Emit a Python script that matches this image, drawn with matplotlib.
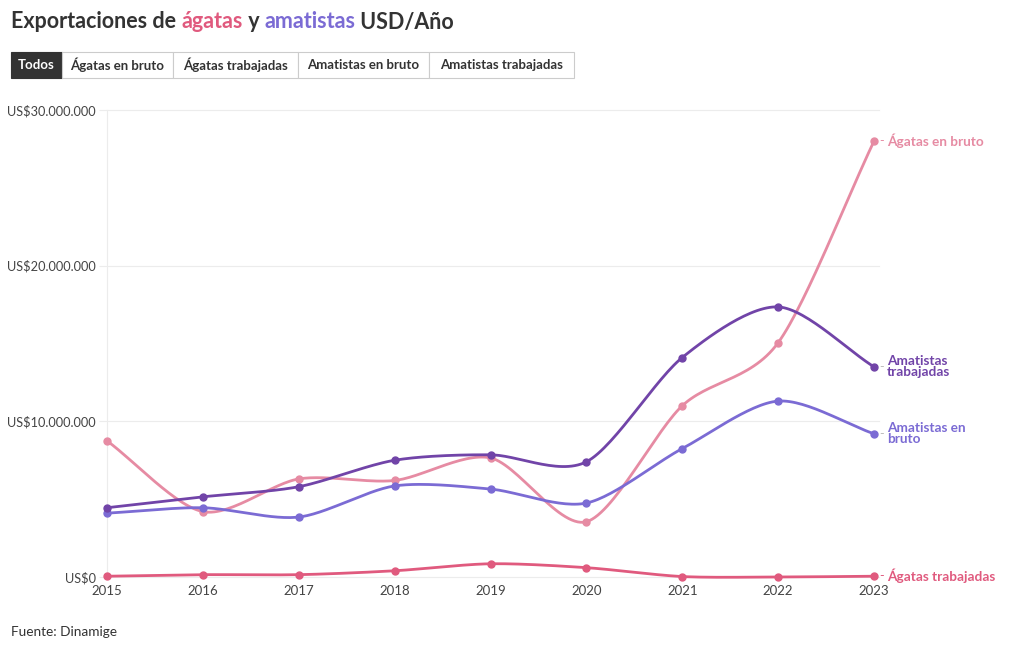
"""
Exportaciones de ágatas y amatistas (USD/año) — recreación del gráfico.
"""

import numpy as np
import matplotlib
matplotlib.use("Agg")
import matplotlib.pyplot as plt
import matplotlib.patches as mpatches
from matplotlib.ticker import FuncFormatter

plt.rcParams["font.family"] = ["Lato", "DejaVu Sans"]

# ── Datos ─────────────────────────────────────────────────────────────────────

years = [2015, 2016, 2017, 2018, 2019, 2020, 2021, 2022, 2023]

agatas_bruto       = [8.75, 4.2, 6.3, 6.2, 7.65, 3.55, 11.0, 15.05, 28.0]
agatas_trabajadas  = [0.05, 0.15, 0.15, 0.4, 0.85, 0.6, 0.03, 0.0, 0.05]
amatistas_bruto    = [4.1, 4.45, 3.85, 5.85, 5.65, 4.75, 8.25, 11.3, 9.2]
amatistas_trab     = [4.45, 5.15, 5.8, 7.5, 7.85, 7.4, 14.1, 17.35, 13.5]

end_labels   = ["Ágatas en bruto", "Ágatas trabajadas",
                "Amatistas en\nbruto", "Amatistas\ntrabajadas"]

buttons = ["Todos", "Ágatas en bruto", "Ágatas trabajadas",
           "Amatistas en bruto", "Amatistas trabajadas"]

y_ticks = [0, 10, 20, 30]   # millones

# ── Colores ───────────────────────────────────────────────────────────────────

_COLOUR = {
    "agatas_bruto":  "#e68ba3",
    "agatas_trab":   "#e05a7e",
    "amat_bruto":    "#7b6bd4",
    "amat_trab":     "#7144a8",
    "title":         "#333333",
    "tick":          "#444444",
    "grid":          "#ececec",
}

series = [
    (agatas_bruto,      _COLOUR["agatas_bruto"],  _COLOUR["agatas_bruto"]),
    (agatas_trabajadas, _COLOUR["agatas_trab"],   _COLOUR["agatas_trab"]),
    (amatistas_bruto,   _COLOUR["amat_bruto"],    "#bbbbbb"),
    (amatistas_trab,    _COLOUR["amat_trab"],     "#bbbbbb"),
]


def catmull_rom(xs, ys, n=30, tension=0.85):
    """Curva suave que pasa por los puntos (spline cardinal)."""
    xs = np.asarray(xs, float)
    ys = np.asarray(ys, float)
    t = np.linspace(0, 1, n, endpoint=False)
    h00 = 2 * t ** 3 - 3 * t ** 2 + 1
    h10 = t ** 3 - 2 * t ** 2 + t
    h01 = -2 * t ** 3 + 3 * t ** 2
    h11 = t ** 3 - t ** 2

    def tangents(p):
        m = np.zeros_like(p)
        m[1:-1] = (p[2:] - p[:-2]) / 2
        m[0] = p[1] - p[0]
        m[-1] = p[-1] - p[-2]
        return m * tension

    mx, my = tangents(xs), tangents(ys)
    out_x, out_y = [], []
    for i in range(len(xs) - 1):
        out_x.extend(h00 * xs[i] + h10 * mx[i] + h01 * xs[i + 1] + h11 * mx[i + 1])
        out_y.extend(h00 * ys[i] + h10 * my[i] + h01 * ys[i + 1] + h11 * my[i + 1])
    out_x.append(xs[-1])
    out_y.append(ys[-1])
    return np.array(out_x), np.array(out_y)


# ── Figura ────────────────────────────────────────────────────────────────────

W, H = 1020, 650
fig = plt.figure(figsize=(W / 100, H / 100), dpi=100)
fig.patch.set_facecolor("white")

ax = fig.add_axes([107 / W, 1 - 577 / H, (874 - 107) / W, (577 - 110) / H])
ax.set_xlim(2015, 2023)
ax.set_ylim(0, 30)

for s in ["top", "right", "bottom"]:
    ax.spines[s].set_visible(False)
ax.spines["left"].set_color(_COLOUR["grid"])
ax.spines["left"].set_linewidth(0.8)

for v in y_ticks:
    ax.plot([2015, 2023.05], [v, v], color=_COLOUR["grid"], lw=0.8,
            zorder=0, clip_on=False)

ax.set_yticks(y_ticks)
ax.yaxis.set_major_formatter(FuncFormatter(
    lambda v, _: "US$0" if v == 0 else f"US${int(v * 1e6):,}".replace(",", ".")))
ax.set_xticks(years)
ax.tick_params(axis="y", length=6, color=_COLOUR["grid"], pad=2,
               labelsize=9.2, labelcolor=_COLOUR["tick"])
ax.tick_params(axis="x", length=0, pad=6,
               labelsize=9.5, labelcolor=_COLOUR["tick"])

for (vals, color, dash_color), label in zip(series, end_labels):
    sx, sy = catmull_rom(years, vals)
    ax.plot(sx, sy, color=color, lw=2.0, zorder=3, clip_on=False,
            solid_capstyle="round")
    ax.plot(years, vals, "o", color=color, markersize=5, zorder=4,
            clip_on=False)
    ax.annotate("-", xy=(years[-1], vals[-1]),
                xytext=(4, 0), textcoords="offset points",
                ha="left", va="center", fontsize=9, color=dash_color,
                annotation_clip=False)
    ax.annotate(label, xy=(years[-1], vals[-1]),
                xytext=(9.5, 0), textcoords="offset points",
                ha="left", va="center", fontsize=9.8, fontweight="bold",
                color=color, linespacing=0.92, annotation_clip=False)

# ── Título con palabras coloreadas ────────────────────────────────────────────

renderer = fig.canvas.get_renderer()
x_px = 11
for piece, color in [("Exportaciones de ", _COLOUR["title"]),
                     ("ágatas", _COLOUR["agatas_trab"]),
                     (" y ", _COLOUR["title"]),
                     ("amatistas", _COLOUR["amat_bruto"]),
                     (" USD/Año", _COLOUR["title"])]:
    t = fig.text(x_px / W, 1 - 22 / H, piece, fontsize=15.5,
                 fontweight="bold", color=color, va="center", ha="left")
    x_px += t.get_window_extent(renderer).width

# ── Botones ───────────────────────────────────────────────────────────────────

edges = [11, 62, 173, 298, 429, 574]
top, bot = 52, 78
for i, label in enumerate(buttons):
    x0, x1 = edges[i], edges[i + 1]
    active = i == 0
    rect = mpatches.Rectangle(
        (x0 / W, 1 - bot / H), (x1 - x0) / W, (bot - top) / H,
        transform=fig.transFigure,
        facecolor="#333333" if active else "white",
        edgecolor="#333333" if active else "#cccccc", linewidth=0.8)
    fig.patches.append(rect)
    fig.text((x0 + x1) / 2 / W, 1 - (top + bot) / 2 / H, label,
             fontsize=9.5, fontweight="bold", ha="center", va="center",
             color="white" if active else "#333333")

fig.text(11 / W, 1 - 632 / H, "Fuente: Dinamige", fontsize=9.8,
         color="#333333", va="center", ha="left")

fig.savefig("out.png", dpi=100)
